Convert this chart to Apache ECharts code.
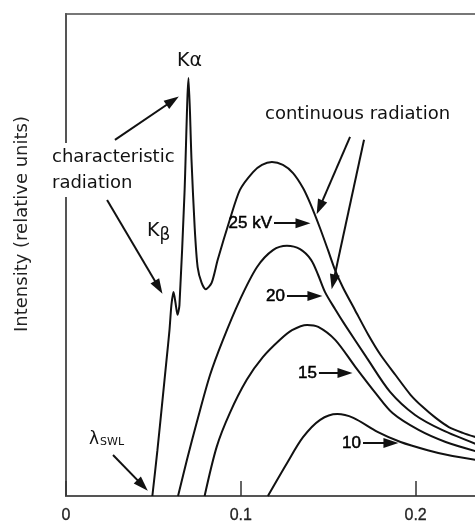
<!DOCTYPE html>
<html>
<head>
<meta charset="utf-8">
<script src="https://cdn.jsdelivr.net/npm/echarts/dist/echarts.min.js"></script>
<style>
  html, body { margin: 0; padding: 0; background: #fff; }
  #chart { width: 475px; height: 523px; }
</style>
</head>
<body>
<div id="chart"></div>
<script>
// X-ray tube spectra: wavelength (nm) vs intensity (relative units)
// 25 kV spectrum, including the K-beta and K-alpha characteristic lines
const lambda25 = [0.0494, 0.0523, 0.0552, 0.0575, 0.0592, 0.0603, 0.0615, 0.0626, 0.0638, 0.0649,
                  0.0678, 0.0701, 0.0718, 0.0736, 0.0753, 0.0776, 0.0799, 0.0833, 0.0868, 0.0937,
                  0.0995, 0.1070, 0.1121, 0.1178, 0.1241, 0.1299, 0.1356, 0.1396, 0.1453, 0.1499,
                  0.1539, 0.1585, 0.1653, 0.1730, 0.1799, 0.1885, 0.1971, 0.2040, 0.2115, 0.2190,
                  0.2270, 0.2345];
const int25 = [0, 9.5, 19.9, 28.2, 34.4, 39.6, 42.3, 40.2, 37.6, 39.6,
               62.9, 86.7, 69.7, 55.8, 47.5, 44.2, 42.9, 44.2, 49.0, 57.3,
               63.5, 67.2, 68.7, 69.3, 68.7, 67.0, 63.9, 60.8, 55.6, 51.0,
               46.9, 43.2, 38.6, 33.4, 29.3, 25.1, 21.0, 18.5, 16.2, 14.3,
               13.1, 12.2];

// 20 kV continuous spectrum
const lambda20 = [0.0641, 0.0692, 0.0749, 0.0824, 0.0898, 0.0995, 0.1093, 0.1184, 0.1264, 0.1339,
                  0.1402, 0.1442, 0.1482, 0.1539, 0.1596, 0.1722, 0.1854, 0.1997, 0.2151, 0.2345];
const int20 = [0, 7.5, 15.4, 25.1, 32.4, 40.7, 47.5, 51.0, 51.9, 51.2,
               49.0, 45.9, 42.3, 38.8, 35.5, 28.6, 21.6, 16.8, 13.7, 10.8];

// 15 kV continuous spectrum
const lambda15 = [0.0793, 0.0862, 0.0937, 0.1034, 0.1126, 0.1224, 0.1293, 0.1379, 0.1443, 0.1540,
                  0.1655, 0.1770, 0.1868, 0.2017, 0.2172, 0.2345];
const int15 = [0, 10.2, 17.2, 24.1, 28.8, 32.4, 34.4, 35.5, 35.1, 32.4,
               26.8, 21.4, 17.2, 13.7, 11.2, 9.3];

// 10 kV continuous spectrum
const lambda10 = [0.1155, 0.1264, 0.1356, 0.1454, 0.1552, 0.1644, 0.1782, 0.1914, 0.2069, 0.2184, 0.2345];
const int10 = [0, 6.8, 12.2, 15.8, 17.0, 16.2, 13.3, 11.2, 9.5, 8.5, 7.5];

// voltage labels and the arrows pointing at each curve: [label, x0, y0, x1, y1]
const voltageArrows = [
  ['25 kV', 0.1190, 56.6, 0.1356, 56.6],
  ['20',    0.1264, 41.5, 0.1424, 41.5],
  ['15',    0.1447, 25.5, 0.1596, 25.5],
  ['10',    0.1699, 11.0, 0.1859, 11.0]
];
// annotation arrows: [x0, y0, x1, y1]
const noteArrows = [
  [0.0280, 73.9, 0.0610, 82.0],   // characteristic -> K-alpha
  [0.0235, 61.4, 0.0530, 43.3],   // characteristic -> K-beta
  [0.1625, 74.5, 0.1451, 59.9],   // continuous -> 25 kV
  [0.1705, 73.9, 0.1529, 44.4],   // continuous -> 20 kV
  [0.0269, 8.5, 0.0438, 2.2]      // shortest wavelength limit
];
const xTicks = [0, 0.1, 0.2];

const zip = (xs, ys) => xs.map((x, i) => [x, ys[i]]);

const INK = '#111';
const annotFont = '"DejaVu Sans", sans-serif';
const numFont = '"Liberation Sans", Arial, sans-serif';

function curve(name, xs, ys, extra) {
  return Object.assign({
    name: name,
    type: 'line',
    data: zip(xs, ys),
    smooth: 0.3,
    showSymbol: false,
    symbol: 'none',
    lineStyle: { color: INK, width: 2 },
    z: 3,
    silent: true,
    animation: false
  }, extra || {});
}

const arrowLines = [];
voltageArrows.forEach(function (a) {
  arrowLines.push([
    { coord: [a[1], a[2]], name: a[0],
      label: { show: true, position: 'start', distance: 2, formatter: '{b}',
               fontFamily: numFont, fontSize: 17, color: '#000',
               textBorderColor: '#000', textBorderWidth: 0.5 } },
    { coord: [a[3], a[4]] }
  ]);
});
noteArrows.forEach(function (a) {
  arrowLines.push([
    { coord: [a[0], a[1]], label: { show: false } },
    { coord: [a[2], a[3]] }
  ]);
});

const chart = echarts.init(document.getElementById('chart'), null, { renderer: 'canvas' });

chart.setOption({
  animation: false,
  backgroundColor: '#fff',
  grid: {
    left: 66, top: 14, right: -28, bottom: 27,
    outerBoundsMode: 'none',
    containLabel: false,
    show: true, borderColor: '#777', borderWidth: 2, backgroundColor: 'transparent'
  },
  xAxis: {
    type: 'value',
    min: 0, max: 0.25, interval: 0.1,
    axisLine: { show: true, lineStyle: { color: '#555', width: 2 } },
    axisTick: { show: true, inside: true, length: 15, lineStyle: { color: '#333', width: 1.5 } },
    axisLabel: {
      margin: 12, fontSize: 16, color: '#222',
      textBorderColor: '#222', textBorderWidth: 0.3,
      fontFamily: numFont,
      formatter: function (v) { return xTicks.indexOf(+v.toFixed(2)) >= 0 ? String(+v.toFixed(2)) : ''; }
    },
    splitLine: { show: false }
  },
  yAxis: {
    type: 'value',
    min: 0, max: 100,
    axisLine: { show: true, lineStyle: { color: '#555', width: 2 } },
    axisTick: { show: false },
    axisLabel: { show: false },
    splitLine: { show: false }
  },
  series: [
    curve('25 kV', lambda25, int25, {
      smooth: 0.25,
      markLine: {
        silent: true,
        animation: false,
        symbol: ['none', 'triangle'],
        symbolSize: [10, 15],
        lineStyle: { color: INK, width: 2, type: 'solid' },
        label: { show: false },
        data: arrowLines
      }
    }),
    curve('20 kV', lambda20, int20),
    curve('15 kV', lambda15, int15),
    curve('10 kV', lambda10, int10)
  ],
  graphic: [
    {
      type: 'text', x: 22, y: 224, rotation: Math.PI / 2, z: 5,
      style: { text: 'Intensity (relative units)', font: '18px ' + annotFont, fill: '#222',
               align: 'center', verticalAlign: 'middle' }
    },
    {
      type: 'text', left: 51, top: 143, z: 1,
      style: { text: 'characteristic\nradiation', font: '18px ' + annotFont, fill: INK,
               lineHeight: 26, backgroundColor: '#fff', padding: [1, 1, 1, 1] }
    },
    {
      type: 'text', left: 265, top: 105, z: 5,
      style: { text: 'continuous radiation', font: '18px ' + annotFont, fill: INK }
    },
    {
      type: 'text', left: 177, top: 52, z: 5,
      style: { text: '{k|K}{a|α}', fill: INK,
               rich: { k: { fontFamily: annotFont, fontSize: 19, fill: INK },
                       a: { fontFamily: annotFont, fontSize: 19, fill: INK } } }
    },
    {
      type: 'text', left: 147, top: 222, z: 5,
      style: { text: '{k|K}{b|β}', fill: INK,
               rich: { k: { fontFamily: annotFont, fontSize: 19, fill: INK },
                       b: { fontFamily: annotFont, fontSize: 17, fill: INK, padding: [8, 0, 0, 0] } } }
    },
    {
      type: 'text', left: 89, top: 431, z: 5,
      style: { text: '{l|λ}{s|SWL}', fill: INK,
               rich: { l: { fontFamily: annotFont, fontSize: 17, fill: INK },
                       s: { fontFamily: annotFont, fontSize: 11, fill: INK, padding: [6, 0, 0, 1] } } }
    }
  ]
});
</script>
</body>
</html>
